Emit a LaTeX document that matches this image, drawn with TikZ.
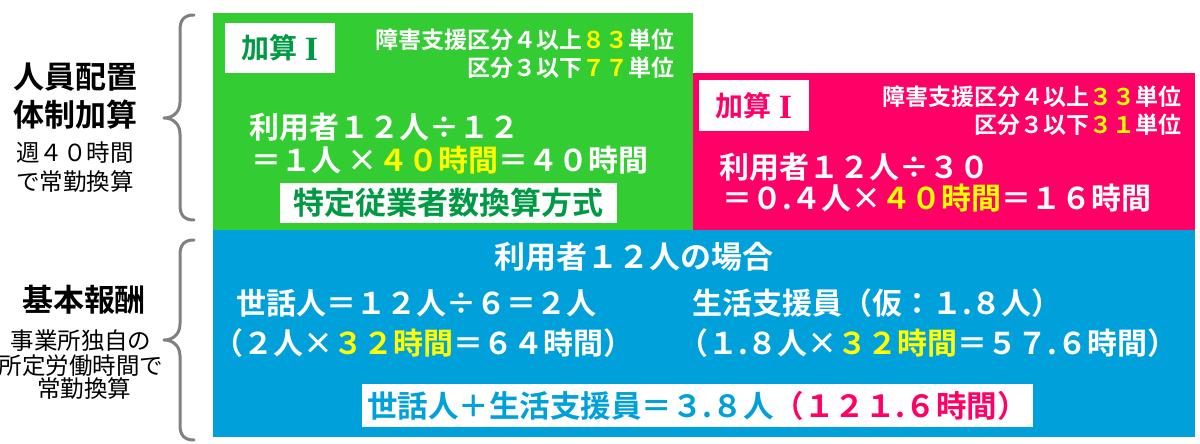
\documentclass[tikz,border=0pt]{standalone}
\usepackage{fontspec}
\setmainfont{Noto Sans CJK JP}[BoldFont={Noto Sans CJK JP Bold}]
\newfontfamily\romfont{Liberation Serif}
\definecolor{grn}{HTML}{33CC33}
\definecolor{pnk}{HTML}{FF0066}
\definecolor{blu}{HTML}{00A0DA}
\definecolor{dgrn}{HTML}{009944}
\definecolor{yel}{HTML}{FFFF00}
\definecolor{brc}{HTML}{808080}
\newcommand{\Y}[1]{{\color{yel}#1}}
\newcommand{\fs}[1]{\fontsize{#1}{#1}\selectfont}
\newcommand{\kasanI}{加算\hspace{7pt}\raisebox{-2pt}{\romfont\bfseries\fs{34}I}}
\begin{document}
\begin{tikzpicture}[x=1pt,y=-1pt,
  panel/.style={anchor=north west, inner sep=0, outer sep=0, draw=none},
  wt/.style={inner sep=0, text=white, font=\bfseries\fs{30}},
  small/.style={inner sep=0, text=white, font=\bfseries\fs{23}, anchor=east},
  labtxt/.style={inner sep=0, font=\bfseries\fs{28}},
  lefttitle/.style={inner sep=0, font=\bfseries\fs{31}},
  leftsub/.style={inner sep=0, font=\fs{23.5}, align=center},
  bracepath/.style={draw=brc, line width=3pt, line cap=round, line join=round}]
\useasboundingbox (0,0) rectangle (1200,444);
% panels
\node[panel, fill=grn, minimum width=480pt, minimum height=217pt] (gbox) at (213,13) {};
\node[panel, fill=pnk, minimum width=502pt, minimum height=157pt] (pbox) at (693,73) {};
\node[panel, fill=blu, minimum width=982pt, minimum height=207pt] (bbox) at (213,230) {};
% green panel content
\node[panel, fill=white, minimum width=110pt, minimum height=50pt] (glab) at (225,23) {};
\node[labtxt, text=dgrn] (glabt) at (glab.center) {\kasanI};
\node[small] (g1) at (675,40) {障害支援区分４以上\Y{８３}単位};
\node[small] (g2) at (675,68) {区分３以下\Y{７７}単位};
\node[wt, anchor=west] (g3) at (249,127) {利用者１２人÷１２};
\node[wt, anchor=west] (g4) at (251,160) {＝１人 ×\Y{４０時間}＝４０時間};
\node[panel, fill=white, minimum width=337pt, minimum height=40pt] (gwb) at (280,183) {};
\node[inner sep=0, text=dgrn, font=\bfseries\fs{31}] (gwbt) at (gwb.center) {特定従業者数換算方式};
% pink panel content
\node[panel, fill=white, minimum width=110pt, minimum height=51pt] (plab) at (699,80) {};
\node[labtxt, text=pnk] (plabt) at (plab.center) {\kasanI};
\node[small] (p1) at (1182,97) {障害支援区分４以上\Y{３３}単位};
\node[small] (p2) at (1182,125) {区分３以下\Y{３１}単位};
\node[wt, anchor=west] (p3) at (719,167) {利用者１２人÷３０};
\node[wt, anchor=west] (p4) at (722,198) {＝０.４人×\Y{４０時間}＝１６時間};
% blue panel content
\node[wt, font=\bfseries\fs{31}] (b0) at (634,257) {利用者１２人の場合};
\node[wt, anchor=west] (b1) at (236,303) {世話人＝１２人÷６＝２人};
\node[wt, anchor=west] (b2) at (213,343) {（２人×\Y{３２時間}＝６４時間）};
\node[wt, anchor=west] (b3) at (692,303) {生活支援員（仮：１.８人）};
\node[wt, anchor=west] (b4) at (678,343) {（１.８人×\Y{３２時間}＝５７.６時間）};
\node[panel, fill=white, minimum width=671pt, minimum height=43pt] (bwb) at (362,384) {};
\node[inner sep=0, text=blu, font=\bfseries\fs{30.5}] (bwbt) at (bwb.center) {世話人＋生活支援員＝３.８人{\color{pnk}（１２１.６時間）}};
% left labels
\node[lefttitle] (l1) at (75,77) {人員配置};
\node[lefttitle] (l2) at (75,115) {体制加算};
\node[leftsub] (l3) at (75,153) {週４０時間};
\node[leftsub] (l4) at (75,182) {で常勤換算};
\node[lefttitle] (l5) at (84,300) {基本報酬};
\node[leftsub] (l6) at (81,341) {事業所独自の};
\node[leftsub] (l7) at (81,366) {所定労働時間で};
\node[leftsub] (l8) at (84,389) {常勤換算};
% braces
\draw[bracepath] (194,15) .. controls (184,15) and (180,20) .. (180,30) -- (180,102)
  .. controls (180,112) and (173,118) .. (164,118)
  .. controls (173,118) and (180,124) .. (180,134) -- (180,205)
  .. controls (180,215) and (184,220) .. (194,220);
\draw[bracepath] (194,240) .. controls (184,240) and (180,245) .. (180,255) -- (180,324)
  .. controls (180,334) and (173,340) .. (164,340)
  .. controls (173,340) and (180,346) .. (180,356) -- (180,425)
  .. controls (180,435) and (184,440) .. (194,440);
\end{tikzpicture}
\end{document}
